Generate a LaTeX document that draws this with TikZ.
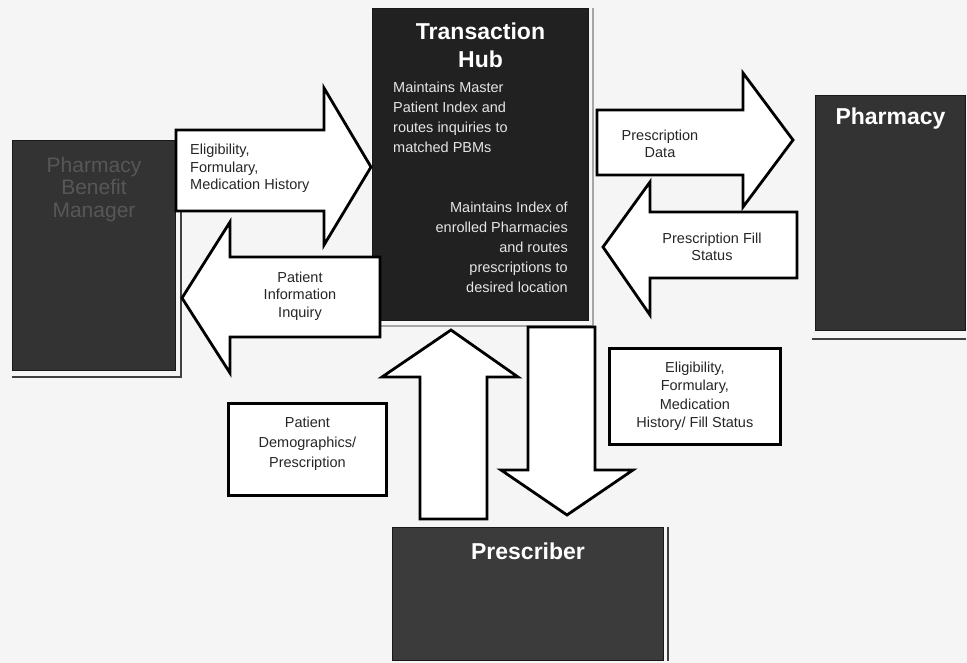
\documentclass[tikz,border=0pt]{standalone}
\usepackage{fontspec}
\setmainfont{Liberation Sans}
\usetikzlibrary{positioning}

\begin{document}
\begin{tikzpicture}[x=1pt, y=-1pt,
    darkbox/.style={draw=black!90, line width=1pt, fill=black!80, anchor=north west, inner sep=0pt},
    shadowline/.style={draw=black!75, line width=1.5pt},
    blockarrow/.style={draw=black, line width=2.8pt, fill=white, line join=miter, miter limit=10},
    infobox/.style={draw=black, line width=2.8pt, fill=white, anchor=north west, inner sep=0pt},
    flowtext/.style={font=\fontsize{14.5}{17.5}\selectfont, text=black!85, align=center, inner sep=0pt},
    headtext/.style={font=\bfseries\fontsize{23}{28}\selectfont, text=white, align=center, inner sep=0pt},
    hubtext/.style={font=\fontsize{14.5}{20}\selectfont, text=white!90!black, inner sep=0pt}]

    % Page background
    \fill[black!4] (0,0) rectangle (967,663);
    \useasboundingbox (0,0) rectangle (967,663);

    % Dark boxes (the four parties)
    \node[darkbox, minimum width=163pt, minimum height=230pt] (pbm) at (12,140) {};
    \node[darkbox, fill=black!87, minimum width=216pt, minimum height=312pt] (hub) at (372,8) {};
    \node[darkbox, minimum width=150pt, minimum height=235pt] (pharm) at (815,95) {};
    \node[darkbox, fill=black!77, minimum width=271pt, minimum height=133pt] (presc) at (392,527) {};

    % Frame lines beside the boxes
    \draw[shadowline] ([xshift=5pt]pbm.north east) |- ([yshift=-6pt]pbm.south west);
    \draw[shadowline, draw=black!35] ([xshift=4pt]hub.north east) |- ([yshift=-5pt, xshift=8pt]hub.south west);
    \draw[shadowline] ([yshift=-8pt, xshift=-3pt]pharm.south west) -- ([yshift=-8pt]pharm.south east);
    \draw[shadowline] ([xshift=4pt]presc.north east) -- ([xshift=4pt]presc.south east);

    % Box titles
    \node[font=\fontsize{21}{22.5}\selectfont, text=black!66, align=center, inner sep=0pt, below=17pt of pbm.north] (pbmtitle) {Pharmacy\\Benefit\\Manager};
    \node[headtext, below=15pt of hub.north] (hubtitle) {Transaction\\Hub};
    \node[headtext, below=13pt of pharm.north] (pharmtitle) {Pharmacy};
    \node[headtext, below=16pt of presc.north] (presctitle) {Prescriber};

    % Hub text
    \node[hubtext, align=left, anchor=north west] (hubpatient) at (393,82) {Maintains Master\\Patient Index and\\routes inquiries to\\matched PBMs};
    \node[hubtext, align=right, anchor=north east] (hubpharm) at (568,202) {Maintains Index of\\enrolled Pharmacies\\and routes\\prescriptions to\\desired location};

    % Block arrows, PBM side
    \draw[blockarrow] (176,130) -- (324,130) -- (324,88) -- (371,167) -- (324,245) -- (324,211) -- (176,211) -- cycle;
    \draw[blockarrow] (380,257) -- (230,257) -- (230,222) -- (182,298) -- (230,373) -- (230,337) -- (380,337) -- cycle;

    % Block arrows, pharmacy side
    \draw[blockarrow] (597,110) -- (743,110) -- (743,73) -- (793,140) -- (743,207) -- (743,175) -- (597,175) -- cycle;
    \draw[blockarrow] (797,212) -- (650,212) -- (650,182) -- (603,247) -- (650,315) -- (650,278) -- (797,278) -- cycle;

    % Block arrows, prescriber side
    \draw[blockarrow] (420,519) -- (420,377) -- (382,377) -- (451,330) -- (518,377) -- (487,377) -- (487,519) -- cycle;
    \draw[blockarrow] (528,327) -- (528,470) -- (501,470) -- (567,515) -- (633,470) -- (595,470) -- (595,327) -- cycle;

    % Separate label boxes
    \node[infobox, minimum width=158pt, minimum height=92pt] (demobox) at (227,402) {};
    \node[infobox, minimum width=171pt, minimum height=96pt] (eligbox) at (608,347) {};

    % Arrow labels
    \node[flowtext, align=left, anchor=north west] (eligtext) at (190,144) {Eligibility,\\Formulary,\\Medication History};
    \node[flowtext] (inqtext) at (300,296) {Patient\\Information\\Inquiry};
    \node[flowtext] (rxtext) at (660,144) {Prescription\\Data};
    \node[flowtext] (filltext) at (712,247) {Prescription Fill\\Status};
    \node[flowtext, font=\fontsize{14.5}{20}\selectfont] (demotext) at ([yshift=6pt]demobox.center) {Patient\\Demographics/\\Prescription};
    \node[flowtext, font=\fontsize{14.5}{18.5}\selectfont] (eligtext2) at (eligbox.center) {Eligibility,\\Formulary,\\Medication\\History/ Fill Status};
\end{tikzpicture}
\end{document}
